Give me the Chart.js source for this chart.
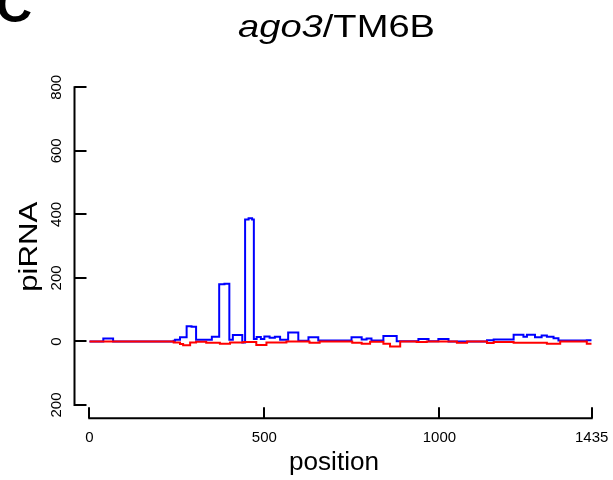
<!DOCTYPE html>
<html>
<head>
<meta charset="utf-8">
<script src="https://cdn.jsdelivr.net/npm/chart.js@4/dist/chart.umd.min.js"></script>
<style>
  html, body { margin: 0; padding: 0; background: #ffffff; }
  canvas { display: block; }
</style>
</head>
<body>
<canvas id="c" width="613" height="480"></canvas>
<script>
// ---- data ----
// each value holds from its position up to the next position
const senseX = [0, 40, 68, 241, 245, 259, 278, 292, 305, 350, 371, 386, 400, 410, 437, 445, 455, 465, 470, 478, 490, 500, 515, 530, 545, 568, 597, 626, 654, 749, 778, 792, 806, 840, 878, 940, 969, 997, 1026, 1136, 1155, 1212, 1240, 1250, 1273, 1292, 1307, 1326, 1340, 1421, 1435];
const senseY = [0, 9, 0, 2, 5, 13, 48, 46, 5, 15, 180, 182, 5, 20, -3, 384, 388, 384, 8, 14, 8, 16, 12, 15, 5, 28, 2, 13, 3, 13, 6, 9, 3, 17, 1, 8, 1, 8, 0, 4, 6, 21, 15, 21, 13, 19, 15, 10, 3, 4, 4];
const antiX = [0, 241, 259, 268, 288, 305, 334, 373, 402, 440, 477, 506, 563, 629, 658, 751, 778, 802, 840, 859, 888, 935, 964, 1050, 1079, 1136, 1155, 1212, 1307, 1345, 1421, 1435];
const antiY = [0, -3, -8, -12, -3, -1, -4, -7, -3, -2, -11, -3, 0, -4, 0, -4, -7, -1, -7, -16, 0, -2, 0, -4, 0, -5, -2, -4, -7, 0, -7, -7];
const xTicks = [0, 500, 1000, 1435];
const yTicks = [-200, 0, 200, 400, 600, 800];
const titleItalic = 'ago3';
const titleRest = '/TM6B';
const xTitle = 'position';
const yTitle = 'piRNA';
const panelLetter = 'C';

const FONT = '"Liberation Sans", Arial, Helvetica, sans-serif';
const toPts = (xs, ys) => xs.map((x, i) => ({ x: x, y: ys[i] }));

const rAxesPlugin = {
  id: 'rAxes',
  afterDraw(chart) {
    const ctx = chart.ctx;
    const xs = chart.scales.x, ys = chart.scales.y;
    ctx.save();
    ctx.strokeStyle = '#000';
    ctx.lineWidth = 2;
    ctx.lineCap = 'butt';
    // y axis (R style, offset left, ticks inward)
    const ax = 74.5;
    const yTop = ys.getPixelForValue(yTicks[yTicks.length - 1]);
    const yBot = ys.getPixelForValue(yTicks[0]);
    ctx.beginPath();
    ctx.moveTo(ax, yTop - 1); ctx.lineTo(ax, yBot + 1);
    yTicks.forEach(v => {
      const py = Math.round(ys.getPixelForValue(v));
      ctx.moveTo(ax, py); ctx.lineTo(ax + 12, py);
    });
    ctx.stroke();
    // x axis
    const ay = 418.3;
    const xL = xs.getPixelForValue(xTicks[0]);
    const xR = xs.getPixelForValue(xTicks[xTicks.length - 1]);
    ctx.beginPath();
    ctx.moveTo(xL - 1, ay); ctx.lineTo(xR + 1, ay);
    xTicks.forEach(v => {
      const px = Math.round(xs.getPixelForValue(v));
      ctx.moveTo(px, ay); ctx.lineTo(px, ay - 11);
    });
    ctx.stroke();

    ctx.fillStyle = '#000';
    // title (mixed italic / upright)
    ctx.font = 'italic 32px ' + FONT;
    const w1 = ctx.measureText(titleItalic).width;
    ctx.font = '32px ' + FONT;
    const w2 = ctx.measureText(titleRest).width;
    const sx = 197 / (w1 + w2);
    ctx.save();
    ctx.translate(238, 36.5);
    ctx.scale(sx, 1);
    ctx.textAlign = 'left';
    ctx.textBaseline = 'alphabetic';
    ctx.font = 'italic 32px ' + FONT;
    ctx.fillText(titleItalic, 0, 0);
    ctx.font = '32px ' + FONT;
    ctx.fillText(titleRest, w1, 0);
    ctx.restore();

    // x title
    ctx.font = '25px ' + FONT;
    const wx = ctx.measureText(xTitle).width;
    ctx.save();
    ctx.translate(334, 470);
    ctx.scale(90 / wx, 1);
    ctx.textAlign = 'center';
    ctx.textBaseline = 'alphabetic';
    ctx.fillText(xTitle, 0, 0);
    ctx.restore();

    // y title (rotated)
    ctx.font = '26.5px ' + FONT;
    const wy = ctx.measureText(yTitle).width;
    ctx.save();
    ctx.translate(36.5, 246.7);
    ctx.rotate(-Math.PI / 2);
    ctx.scale(90 / wy, 1);
    ctx.textAlign = 'center';
    ctx.textBaseline = 'alphabetic';
    ctx.fillText(yTitle, 0, 0);
    ctx.restore();

    // panel letter
    ctx.font = 'bold 50px ' + FONT;
    ctx.textAlign = 'left';
    ctx.textBaseline = 'alphabetic';
    ctx.fillText(panelLetter, -4, 22);
    ctx.restore();
  }
};

new Chart(document.getElementById('c'), {
  type: 'line',
  data: {
    datasets: [
      {
        label: 'antisense',
        data: toPts(antiX, antiY),
        borderColor: '#ff0000',
        borderWidth: 2,
        pointRadius: 0,
        fill: false,
        stepped: 'before',
        order: 0
      },
      {
        label: 'sense',
        data: toPts(senseX, senseY),
        borderColor: '#0000ff',
        borderWidth: 2,
        pointRadius: 0,
        fill: false,
        stepped: 'before',
        order: 1
      }
    ]
  },
  options: {
    responsive: false,
    animation: false,
    layout: { padding: { top: 87.3, right: 21.3, bottom: 0, left: 0 } },
    plugins: {
      legend: { display: false },
      tooltip: { enabled: false },
      title: { display: false }
    },
    scales: {
      x: {
        type: 'linear',
        min: 0,
        max: 1435,
        grid: { display: false, drawTicks: false, tickLength: 0 },
        border: { display: false },
        afterBuildTicks: s => { s.ticks = xTicks.map(v => ({ value: v })); },
        afterFit: s => { s.height = 75; s.paddingLeft = 0; s.paddingRight = 0; },
        ticks: {
          autoSkip: false,
          maxRotation: 0,
          padding: 24,
          color: '#000',
          font: { family: FONT, size: 15 },
          callback: v => String(v)
        }
      },
      y: {
        type: 'linear',
        min: -200,
        max: 800,
        grid: { display: false, drawTicks: false, tickLength: 0 },
        border: { display: false },
        afterBuildTicks: s => { s.ticks = yTicks.map(v => ({ value: v })); },
        afterFit: s => { s.width = 89.3; s.paddingTop = 0; s.paddingBottom = 0; },
        ticks: {
          autoSkip: false,
          minRotation: 90,
          maxRotation: 90,
          crossAlign: 'center',
          padding: 20,
          color: '#000',
          font: { family: FONT, size: 15 },
          callback: v => String(Math.abs(v))
        }
      }
    }
  },
  plugins: [rAxesPlugin]
});
</script>
</body>
</html>
